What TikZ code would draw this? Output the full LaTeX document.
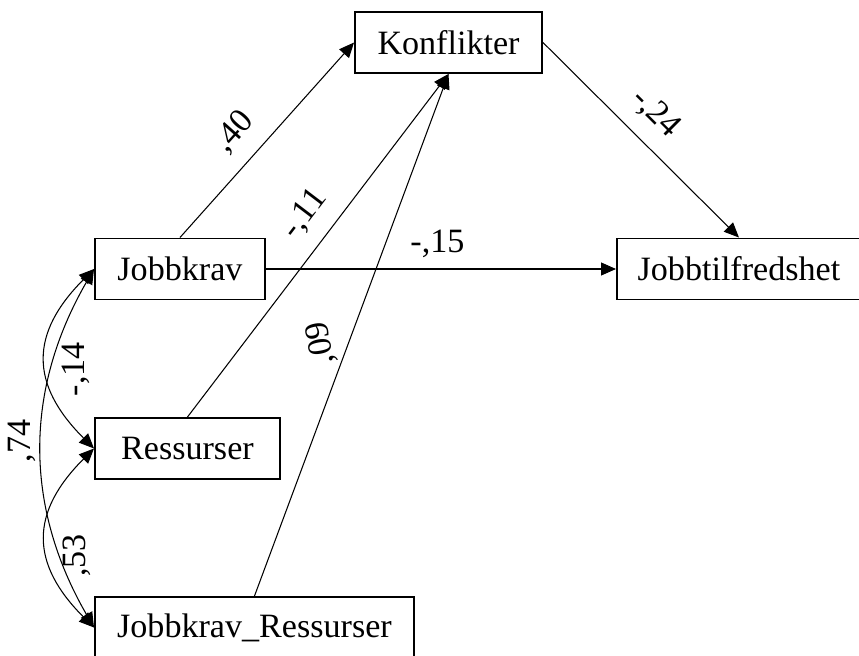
\documentclass[tikz,border=0pt]{standalone}
\usepackage{fontspec}
\setmainfont{Liberation Serif}
\usetikzlibrary{arrows.meta}
\begin{document}
\begin{tikzpicture}[>={Triangle[length=0.3cm,width=0.26cm]},
	boks/.style={draw,line width=1.1pt,minimum height=1.22cm,inner sep=0pt},
	pil/.style={->,line width=0.6pt},
	korr/.style={<->,line width=0.6pt},
	tall/.style={inner sep=0.3cm},
	every node/.append style={font=\fontsize{19.4pt}{23pt}\selectfont}]
	\useasboundingbox (0,0) rectangle (17.18,-13.1);
	%Bokser
	\node[boks,minimum width=3.74cm] (konf) at (8.97,-0.85) {Konflikter};
	\node[boks,minimum width=3.4cm,anchor=west] (krav) at (1.88,-5.38) {Jobbkrav};
	\node[boks,minimum width=3.7cm,anchor=west] (ress) at (1.88,-8.97) {Ressurser};
	\node[boks,minimum width=6.38cm,anchor=west] (kravress) at (1.88,-12.55) {Jobbkrav\_Ressurser};
	\node[boks,minimum width=4.88cm,anchor=west] (tilfr) at (12.32,-5.38) {Jobbtilfredshet};
	%Piler til Konflikter
	\draw[pil] (krav.north) -- (konf.west) node[tall,pos=0.44,sloped,above]{,40};
	\draw[pil] (ress.north) -- (konf.south) node[tall,pos=0.54,sloped,above]{-,11};
	\draw[pil] (kravress.north) -- (konf.south) node[tall,pos=0.495,rotate=100,above]{,09};
	%Piler til Jobbtilfredshet
	\draw[pil] (konf.east) -- (tilfr.north) node[tall,pos=0.47,sloped,above]{-,24};
	\draw[pil] (krav.east) -- (tilfr.west) node[tall,pos=0.49,above=-0.8mm]{-,15};
	%Korrelasjoner
	\draw[korr] (krav.west) to[out=225,in=135,looseness=1.3] node[tall,pos=0.56,rotate=90,anchor=north]{-,14} (ress.west);
	\draw[korr] (krav.west) to[out=240,in=120] node[pos=0.48,rotate=90,anchor=south]{,74} (kravress.west);
	\draw[korr] (ress.west) to[out=225,in=135,looseness=1.3] node[tall,pos=0.6,rotate=90,anchor=north]{,53} (kravress.west);
\end{tikzpicture}
\end{document}
